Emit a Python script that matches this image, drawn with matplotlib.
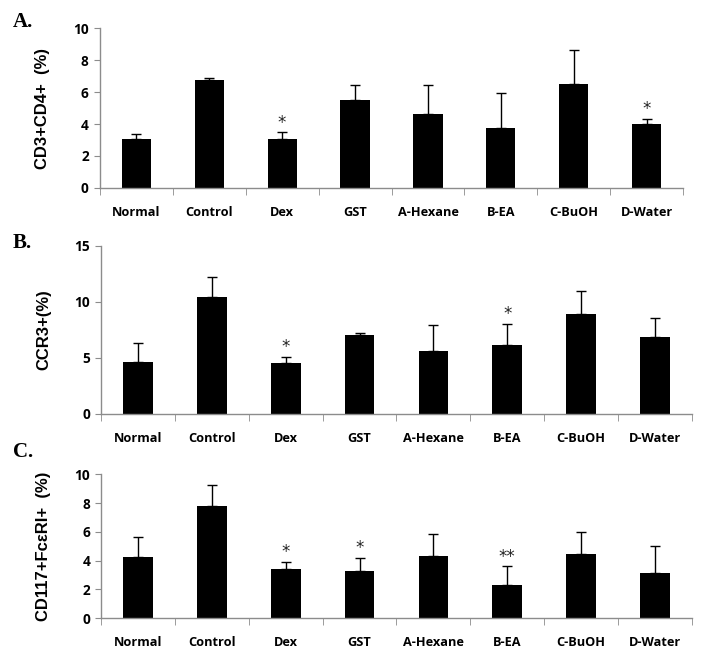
import matplotlib
matplotlib.use("Agg")
import matplotlib.pyplot as plt
import numpy as np

categories = ["Normal", "Control", "Dex", "GST", "A-Hexane", "B-EA", "C-BuOH", "D-Water"]

a_vals = [3.05, 6.76, 3.05, 5.5, 4.62, 3.75, 6.5, 4.0]
a_err = [0.3, 0.1, 0.42, 0.92, 1.8, 2.17, 2.12, 0.3]
a_sig = ["", "", "*", "", "", "", "", "*"]

b_vals = [4.67, 10.45, 4.55, 7.05, 5.63, 6.16, 8.9, 6.88]
b_err = [1.64, 1.75, 0.54, 0.21, 2.29, 1.85, 2.08, 1.67]
b_sig = ["", "", "*", "", "", "*", "", ""]

c_vals = [4.26, 7.8, 3.42, 3.29, 4.33, 2.31, 4.47, 3.15]
c_err = [1.37, 1.46, 0.51, 0.88, 1.5, 1.3, 1.52, 1.85]
c_sig = ["", "", "*", "*", "", "**", "", ""]

fig = plt.figure(figsize=(7.08, 6.61), dpi=100)

panels = [
    ("A.", a_vals, a_err, a_sig, "CD3+CD4+  (%)", 10, [0, 2, 4, 6, 8, 10], [0.141, 0.716, 0.824, 0.241], 0.966),
    ("B.", b_vals, b_err, b_sig, "CCR3+(%)", 15, [0, 5, 10, 15], [0.143, 0.374, 0.834, 0.254], 0.633),
    ("C.", c_vals, c_err, c_sig, "CD117+FcεRI+  (%)", 10, [0, 2, 4, 6, 8, 10], [0.143, 0.0646, 0.834, 0.218], 0.316),
]

gray = "#8c8c8c"
tickfont = dict(family="Open Sans", weight="bold", size=9.2)
ytickfont = dict(family="Open Sans", weight="bold", size=9.8)

for letter, vals, errs, sigs, ylabel, ymax, yticks, rect, ly in panels:
    ax = fig.add_axes(rect)
    x = np.arange(len(categories))
    ax.bar(x, vals, width=0.4, color="black", zorder=2)
    ax.errorbar(x, vals, yerr=[np.zeros(len(vals)), errs], fmt="none",
                ecolor="black", elinewidth=1.0, capsize=3.5, capthick=1.0, zorder=3)
    for xi, v, e, s in zip(x, vals, errs, sigs):
        if s:
            ax.text(xi, v + e + ymax * 0.005, s, ha="center", va="bottom",
                    fontsize=12, family="DejaVu Sans", color="#222222")
    ax.set_xlim(-0.5, len(categories) - 0.5)
    ax.set_ylim(0, ymax)
    ax.set_yticks(yticks)
    ax.set_yticklabels([str(t) for t in yticks], fontdict=ytickfont)
    ax.set_xticks(x)
    ax.set_xticklabels(categories, fontdict=tickfont)
    ax.set_xticks(np.arange(len(categories) + 1) - 0.5, minor=True)
    ax.tick_params(axis="x", which="major", length=0, pad=13)
    ax.tick_params(axis="x", which="minor", length=5, direction="out", color=gray)
    ax.tick_params(axis="y", length=4, direction="out", color=gray, pad=4)
    for sp in ["top", "right"]:
        ax.spines[sp].set_visible(False)
    for sp in ["left", "bottom"]:
        ax.spines[sp].set_color(gray)
        ax.spines[sp].set_linewidth(1.0)
    ax.set_ylabel(ylabel, family="Liberation Sans", weight="bold", fontsize=12)
    ax.yaxis.set_label_coords(-0.085, 0.5)
    fig.text(0.018, ly, letter, family="Liberation Serif", weight="bold", fontsize=15,
             ha="left", va="center")

fig.savefig("out.png", dpi=100)
